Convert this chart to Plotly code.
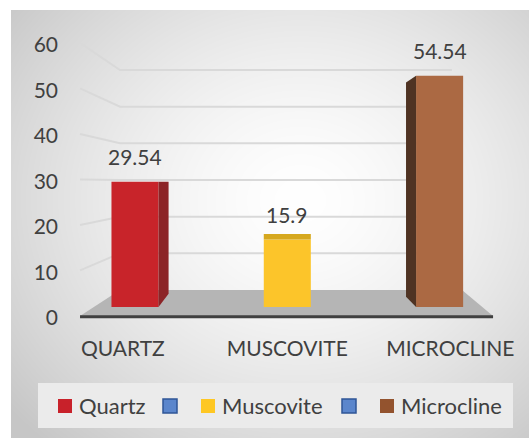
import zlib, struct, base64
import numpy as np
import plotly.graph_objects as go

# ---------------- data ----------------
categories = ["QUARTZ", "MUSCOVITE", "MICROCLINE"]
values = [29.54, 15.9, 54.54]
value_labels = ["29.54", "15.9", "54.54"]
legend_names = ["Quartz", "", "Muscovite", "", "Microcline"]
y_ticks = [0, 10, 20, 30, 40, 50, 60]

# ---------------- styles ----------------
front_colors = ["#c8242a", "#fcc52a", "#ab6943"]
side_colors = ["#8c2427", "#d6a81f", "#4f3323"]
legend_fill = ["#c8212a", "#5b86cc", "#fec723", "#5b86cc", "#93532e"]
legend_line = [None, "#2f5597", None, "#2f5597", None]
txt = "#404040"
FONT = "Lato"

W_FIG, H_FIG = 529, 438
L, R, T, B = 62, 5, 35, 108
PW, PH = W_FIG - L - R, H_FIG - T - B
BOT = H_FIG - B  # plot bottom pixel


def px2x(p):
    return (p - L) / PW


def py2y(p):
    return (BOT - p) / PH


# axes scales (x: data units, category spacing)
x0_px, dx_px = 135.0, 152.3
xr = [(L - x0_px) / dx_px, (W_FIG - R - x0_px) / dx_px]
# front (tick) scale: 0 at 318 px, 4.55 px/unit
y1r = [(318 - BOT) / 4.55, (318 - T) / 4.55]
# bar scale: 0 at 307 px, 4.24 px/unit
y2r = [(307 - BOT) / 4.24, (307 - T) / 4.24]

bar_w = 0.309
depth_x = 0.066

# perspective wall/floor geometry (layout constants, y1 units / x units)
front_left_x, back_left_x, back_right_x = -0.361, -0.0985, 2.081
floor_back_right_x, floor_front_right_x = 2.147, 2.351


def front_y(v):
    return v + 0.45


def back_y(v):
    return 6.15 + 0.806 * v


# ---------------- background gradient image ----------------
def png_uri(arr):
    h, w, _ = arr.shape
    raw = b"".join(b"\x00" + arr[r].tobytes() for r in range(h))

    def chunk(t, d):
        c = struct.pack(">I", len(d)) + t + d
        return c + struct.pack(">I", zlib.crc32(t + d) & 0xFFFFFFFF)

    png = (b"\x89PNG\r\n\x1a\n"
           + chunk(b"IHDR", struct.pack(">IIBBBBB", w, h, 8, 2, 0, 0, 0))
           + chunk(b"IDAT", zlib.compress(raw, 9))
           + chunk(b"IEND", b""))
    return "data:image/png;base64," + base64.b64encode(png).decode()


bx0, by0 = 11, 10
bw, bh = W_FIG - bx0, H_FIG - by0
yy, xx = np.mgrid[by0:H_FIG, bx0:W_FIG].astype(float)
rr = np.sqrt(((xx - 300) / 380) ** 2 + ((yy - 200) / 330) ** 2)
val = 255 - 57 * np.clip(rr, 0, 1) ** 1.5
img = np.repeat(np.clip(val, 0, 255).astype(np.uint8)[:, :, None], 3, axis=2)
bg_uri = png_uri(np.ascontiguousarray(img))

fig = go.Figure()

# ---------------- walls gridlines (y1) ----------------
for v in y_ticks[1:]:
    fig.add_trace(go.Scatter(
        x=[front_left_x, back_left_x, back_right_x],
        y=[front_y(v), back_y(v), back_y(v)],
        mode="lines", line=dict(color="#d9d9d9", width=2),
        hoverinfo="skip", showlegend=False, yaxis="y"))

# floor
fig.add_trace(go.Scatter(
    x=[front_left_x, back_left_x, floor_back_right_x, floor_front_right_x, front_left_x],
    y=[front_y(0), back_y(0), back_y(0), front_y(0), front_y(0)],
    mode="lines", fill="toself", fillcolor="#b5b5b5", line=dict(width=0, color="#b5b5b5"),
    hoverinfo="skip", showlegend=False, yaxis="y"))
fig.add_trace(go.Scatter(
    x=[front_left_x, floor_front_right_x], y=[front_y(0) - 0.2, front_y(0) - 0.2],
    mode="lines", line=dict(color="#404040", width=3),
    hoverinfo="skip", showlegend=False, yaxis="y"))

# ---------------- bars (y2) ----------------
for i, (c, v) in enumerate(zip(categories, values)):
    fig.add_trace(go.Bar(
        x=[i], y=[v], width=bar_w, name=c, yaxis="y2",
        marker=dict(color=front_colors[i], line=dict(width=0)),
        showlegend=False, hoverinfo="x+y"))

# side / top faces
lft = [i - bar_w / 2 for i in range(3)]
rgt = [i + bar_w / 2 for i in range(3)]
# Quartz: right side face
fig.add_trace(go.Scatter(
    x=[rgt[0], rgt[0] + depth_x, rgt[0] + depth_x, rgt[0], rgt[0]],
    y=[0, 3.1, values[0], values[0], 0],
    mode="lines", fill="toself", fillcolor=side_colors[0], line=dict(width=0, color=side_colors[0]),
    hoverinfo="skip", showlegend=False, yaxis="y2"))
# Muscovite: top face
fig.add_trace(go.Scatter(
    x=[lft[1], rgt[1], rgt[1], lft[1], lft[1]],
    y=[values[1], values[1], values[1] + 1.3, values[1] + 1.3, values[1]],
    mode="lines", fill="toself", fillcolor=side_colors[1], line=dict(width=0, color=side_colors[1]),
    hoverinfo="skip", showlegend=False, yaxis="y2"))
# Microcline: left side face
fig.add_trace(go.Scatter(
    x=[lft[2], lft[2] - depth_x, lft[2] - depth_x, lft[2], lft[2]],
    y=[0, 2.4, values[2] - 1.6, values[2], 0],
    mode="lines", fill="toself", fillcolor=side_colors[2], line=dict(width=0, color=side_colors[2]),
    hoverinfo="skip", showlegend=False, yaxis="y2"))

annotations = []
for i, (v, t) in enumerate(zip(values, value_labels)):
    annotations.append(dict(x=i, y=v, xref="x", yref="y2", text=t, showarrow=False,
                            yanchor="middle", yshift=25,
                            font=dict(family=FONT, size=21, color=txt)))

# ---------------- legend (drawn) ----------------
shapes = [dict(type="rect", xref="paper", yref="paper",
               x0=px2x(38), x1=px2x(513), y0=py2y(428), y1=py2y(383),
               fillcolor="#ebebeb", line=dict(width=0), layer="above")]
leg_sym_px = [58, 163, 201, 342, 380]
leg_y = 406
for name, sx, fc, lc in zip(legend_names, leg_sym_px, legend_fill, legend_line):
    shapes.append(dict(type="rect", xref="paper", yref="paper",
                       x0=px2x(sx), x1=px2x(sx + 14), y0=py2y(leg_y + 7), y1=py2y(leg_y - 7),
                       fillcolor=fc, line=dict(width=1.5 if lc else 0, color=lc or fc),
                       layer="above"))
    if name:
        annotations.append(dict(x=px2x(sx + 19), y=py2y(leg_y - 1), xref="paper", yref="paper",
                                text=name, showarrow=False, xanchor="left", yanchor="middle",
                                font=dict(family=FONT, size=22, color=txt)))

cat_shift = [-0.08, 0.0, 0.07]

fig.update_layout(
    width=W_FIG, height=H_FIG, autosize=False,
    margin=dict(l=L, r=R, t=T, b=B, pad=0),
    paper_bgcolor="white", plot_bgcolor="rgba(0,0,0,0)",
    showlegend=False, barmode="overlay",
    font=dict(family=FONT, color=txt),
    images=[dict(source=bg_uri, xref="paper", yref="paper",
                 x=px2x(bx0), y=py2y(by0), sizex=bw / PW, sizey=bh / PH,
                 xanchor="left", yanchor="top", sizing="stretch", layer="below")],
    xaxis=dict(range=xr, showgrid=False, zeroline=False, showline=False,
               tickvals=[i + s for i, s in enumerate(cat_shift)], ticktext=categories,
               ticks="", ticklabelstandoff=4,
               tickfont=dict(family=FONT, size=21, color=txt), fixedrange=True),
    yaxis=dict(range=y1r, showgrid=False, zeroline=False, showline=False,
               tickvals=y_ticks, ticks="", ticklabelstandoff=3,
               tickfont=dict(family=FONT, size=21, color=txt), fixedrange=True),
    yaxis2=dict(range=y2r, overlaying="y", side="left", visible=False, fixedrange=True),
    annotations=annotations, shapes=shapes,
)

fig.write_html("out.html", config={"displayModeBar": False},
               post_script="document.body.style.margin='0';document.body.style.padding='0';document.body.style.overflow='hidden';")
